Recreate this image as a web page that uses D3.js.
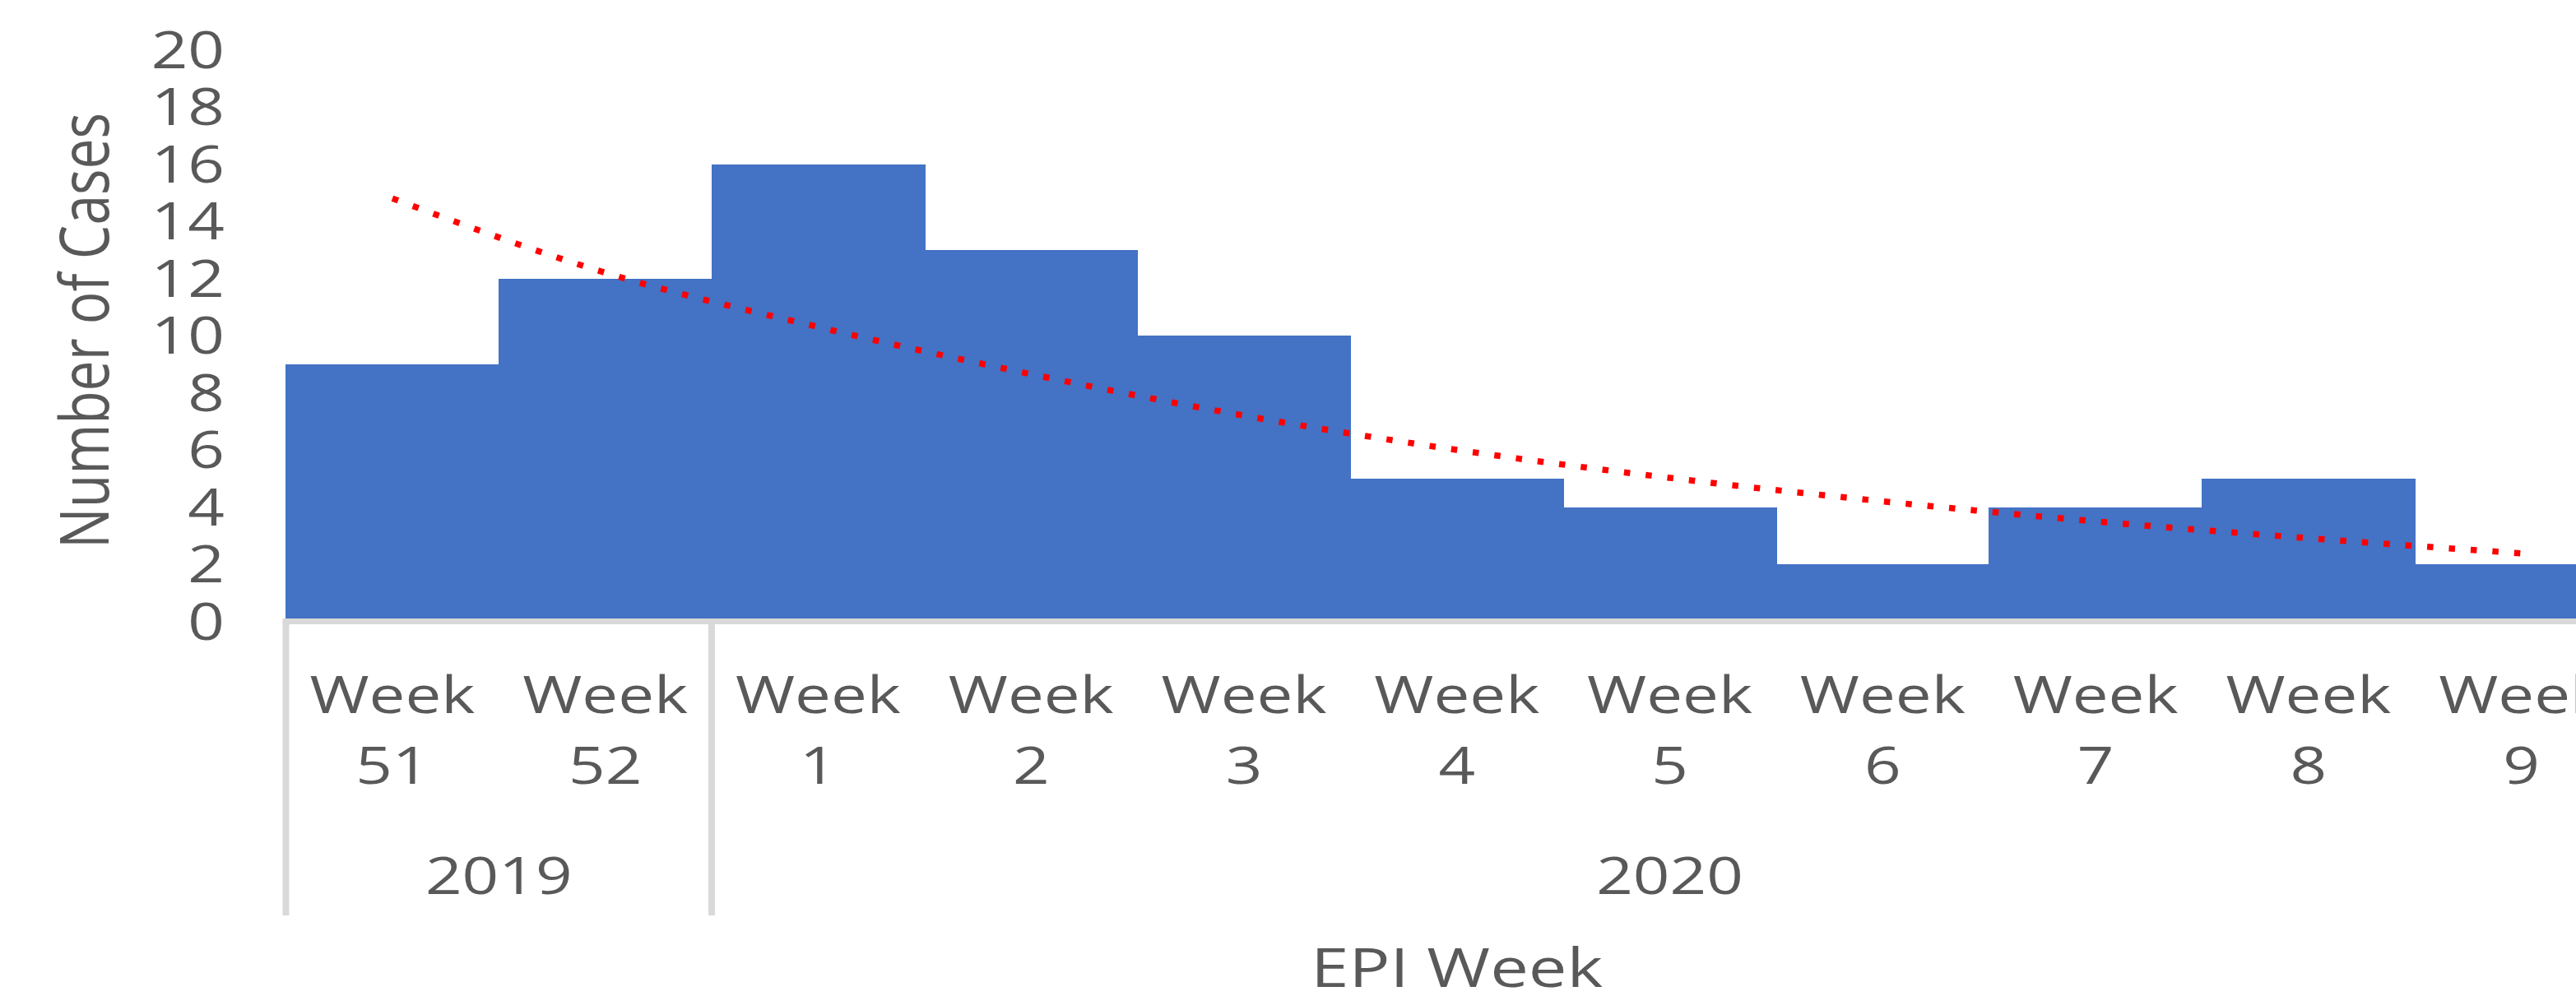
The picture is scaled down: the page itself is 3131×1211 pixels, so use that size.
<!DOCTYPE html>
<html>
<head>
<meta charset="utf-8">
<script src="https://cdn.jsdelivr.net/npm/d3@7"></script>
<style>
  body { margin: 0; background: #fff; }
  svg { display: block; overflow: hidden; }
  text { font-family: "Open Sans", "Noto Sans", sans-serif; fill: #595959; }
</style>
</head>
<body>
<script>
// data
var weeks = ["51", "52", "1", "2", "3", "4", "5", "6", "7", "8", "9"];
var years = ["2019", "2019", "2020", "2020", "2020", "2020", "2020", "2020", "2020", "2020", "2020"];
var cases = [9, 12, 16, 13, 10, 5, 4, 2, 4, 5, 2];
var trend = [14.8, 12.2, 10.3, 8.65, 7.2, 6.0, 5.02, 4.2, 3.5, 2.91, 2.38];
var yTicks = [0, 2, 4, 6, 8, 10, 12, 14, 16, 18, 20];

var width = 3131, height = 1211;
var stretch = 1.26;   // the source picture is widened a bit

var svg = d3.select("body").append("svg")
    .attr("width", width)
    .attr("height", height);

var keys = weeks.map(function(w, i) { return years[i] + "-" + w; });

var x = d3.scaleBand()
    .domain(keys)
    .range([347.5, 3194])
    .padding(0);

var y = d3.scaleLinear()
    .domain([0, 20])
    .range([755.5, 60.5]);

// bars
svg.append("g").selectAll("rect")
    .data(cases)
    .enter().append("rect")
    .attr("x", function(d, i) { return Math.floor(x(keys[i])); })
    .attr("y", function(d) { return y(d); })
    .attr("width", Math.ceil(x.bandwidth()) + 1)
    .attr("height", function(d) { return y(0) - y(d); })
    .attr("shape-rendering", "crispEdges")
    .style("fill", "#4472C4");

// trend line
var line = d3.line()
    .x(function(d, i) { return x(keys[i]) + x.bandwidth() / 2; })
    .y(function(d) { return y(d); })
    .curve(d3.curveMonotoneX);

svg.append("path")
    .datum(trend)
    .attr("d", line)
    .style("fill", "none")
    .style("stroke", "#FF0000")
    .style("stroke-width", 7.5)
    .style("stroke-dasharray", "7.5 19");

// x axis line and group separators
svg.append("line")
    .attr("x1", x.range()[0] - 4).attr("x2", x.range()[1])
    .attr("y1", y(0)).attr("y2", y(0))
    .style("stroke", "#D9D9D9")
    .style("stroke-width", 7);

var groups = d3.groups(keys.map(function(k, i) { return {key: k, year: years[i]}; }), function(d) { return d.year; });
var bounds = [x.range()[0]];
groups.forEach(function(g) {
  var last = g[1][g[1].length - 1].key;
  bounds.push(x(last) + x.bandwidth());
});

svg.append("g").selectAll("line")
    .data(bounds)
    .enter().append("line")
    .attr("x1", function(d) { return d; })
    .attr("x2", function(d) { return d; })
    .attr("y1", y(0))
    .attr("y2", 1113)
    .style("stroke", "#D9D9D9")
    .style("stroke-width", 8);

// week labels (two lines)
var wk = svg.append("g").selectAll("g")
    .data(weeks)
    .enter().append("g")
    .attr("transform", function(d, i) {
      return "translate(" + (x(keys[i]) + x.bandwidth() / 2) + ",0) scale(" + stretch + ",1)";
    });
wk.append("text")
    .attr("y", 867)
    .attr("text-anchor", "middle")
    .style("font-size", "62px")
    .text("Week");
wk.append("text")
    .attr("y", 953)
    .attr("text-anchor", "middle")
    .style("font-size", "62px")
    .text(function(d) { return d; });

// year labels
svg.append("g").selectAll("text")
    .data(groups)
    .enter().append("text")
    .attr("transform", function(g, i) {
      var cx = (bounds[i] + bounds[i + 1]) / 2;
      return "translate(" + cx + ",1087) scale(" + stretch + ",1)";
    })
    .attr("text-anchor", "middle")
    .style("font-size", "62px")
    .text(function(g) { return g[0]; });

// y tick labels
svg.append("g").selectAll("text")
    .data(yTicks)
    .enter().append("text")
    .attr("transform", function(d) {
      return "translate(273," + (y(d) + 22) + ") scale(" + stretch + ",1)";
    })
    .attr("text-anchor", "end")
    .style("font-size", "62px")
    .text(function(d) { return d; });

// axis titles
svg.append("text")
    .attr("transform", "translate(132,402) scale(" + stretch + ",1) rotate(-90)")
    .attr("text-anchor", "middle")
    .style("font-size", "66px")
    .text("Number of Cases");

svg.append("text")
    .attr("transform", "translate(" + ((x.range()[0] + x.range()[1]) / 2) + ",1200) scale(" + stretch + ",1)")
    .attr("text-anchor", "middle")
    .style("font-size", "66px")
    .text("EPI Week");
</script>
</body>
</html>
